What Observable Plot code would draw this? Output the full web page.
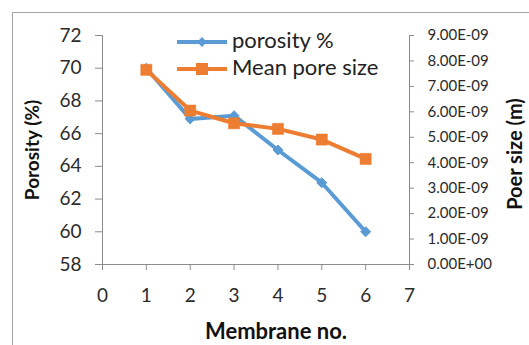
<!DOCTYPE html>
<html>
<head>
<meta charset="utf-8">
<script src="https://cdn.jsdelivr.net/npm/d3@7"></script>
<script src="https://cdn.jsdelivr.net/npm/@observablehq/plot@0.6"></script>
<style>
  html, body { margin: 0; padding: 0; background: #fff; }
  #chart { width: 529px; height: 345px; overflow: hidden; }
</style>
</head>
<body>
<div id="chart"></div>
<script>
// ---- data ----
const membrane = [1, 2, 3, 4, 5, 6];
const porosity = [70, 66.9, 67.1, 65, 63, 60];
const poreSize = [7.65e-9, 6.05e-9, 5.55e-9, 5.33e-9, 4.91e-9, 4.15e-9];
const xTicks = [0, 1, 2, 3, 4, 5, 6, 7];
const leftTicks = [58, 60, 62, 64, 66, 68, 70, 72];
const rightTicks = [0, 1e-9, 2e-9, 3e-9, 4e-9, 5e-9, 6e-9, 7e-9, 8e-9, 9e-9];
const rightTickLabels = ["0.00E+00", "1.00E-09", "2.00E-09", "3.00E-09", "4.00E-09",
  "5.00E-09", "6.00E-09", "7.00E-09", "8.00E-09", "9.00E-09"];
const seriesNames = ["porosity %", "Mean pore size"];
const xTitle = "Membrane no.";
const yLeftTitle = "Porosity (%)";
const yRightTitle = "Poer size (m)";

// ---- dual-axis mapping (right axis -> left scale) ----
const yMin = 58, yMax = 72, rMax = 9e-9;
const toLeft = v => yMin + (v / rMax) * (yMax - yMin);

const porData = membrane.map((m, i) => ({x: m, y: porosity[i]}));
const poreData = membrane.map((m, i) => ({x: m, y: toLeft(poreSize[i])}));
const rightPos = rightTicks.map(toLeft);

const blue = "#5B9BD5", orange = "#ED7D31", axisGray = "#8c8c8c", textCol = "#2b2b2b";

const W = 529, H = 345;
const chart = Plot.plot({
  width: W, height: H,
  marginLeft: 102, marginRight: 120, marginTop: 35, marginBottom: 81,
  style: {fontFamily: "Lato, sans-serif", background: "transparent", color: textCol},
  x: {domain: [0, 7]},
  y: {domain: [yMin, yMax]},
  marks: [
    Plot.ruleY([yMin], {stroke: axisGray, strokeWidth: 1}),
    Plot.ruleX([0], {stroke: axisGray, strokeWidth: 1}),
    Plot.ruleX([7], {stroke: axisGray, strokeWidth: 1}),
    Plot.axisX({ticks: xTicks, tickSize: 6, tickPadding: 18, fontSize: 19, label: null, tickFormat: d => String(d)}),
    Plot.axisY({ticks: leftTicks, anchor: "left", tickSize: 7, tickPadding: 14, fontSize: 19, label: null, tickFormat: d => String(d)}),
    Plot.axisY({ticks: rightPos, anchor: "right", tickSize: 4, tickPadding: 14, fontSize: 15, label: null,
      tickFormat: v => rightTickLabels[Math.round((v - yMin) / (yMax - yMin) * 9)]}),
    Plot.line(porData, {x: "x", y: "y", stroke: blue, strokeWidth: 4, curve: "linear"}),
    Plot.dot(porData, {x: "x", y: "y", symbol: "diamond2", r: 4.5, fill: blue, stroke: blue, strokeWidth: 1}),
    Plot.line(poreData, {x: "x", y: "y", stroke: orange, strokeWidth: 4, curve: "linear"}),
    Plot.dot(poreData, {x: "x", y: "y", symbol: "square", r: 6.3, fill: orange, stroke: orange, strokeWidth: 0.5})
  ]
});

const svg = d3.select(chart);
svg.selectAll('g[aria-label$="tick"] path, g[aria-label$="tick"]').attr("stroke", axisGray);

// chart-area border
svg.insert("rect", ":first-child")
  .attr("x", 12.5).attr("y", 12.5).attr("width", 700).attr("height", 500)
  .attr("fill", "none").attr("stroke", "#a6a6a6").attr("stroke-width", 1);

// axis titles
svg.append("text").text(xTitle)
  .attr("x", 276).attr("y", 333).attr("text-anchor", "middle").attr("dominant-baseline", "middle")
  .attr("font-family", "Lato, sans-serif").attr("font-weight", "bold").attr("font-size", 22).attr("fill", "#111");
svg.append("text").text(yLeftTitle)
  .attr("transform", "translate(34,150) rotate(-90)").attr("text-anchor", "middle").attr("dominant-baseline", "middle")
  .attr("font-family", "Lato, sans-serif").attr("font-weight", "bold").attr("font-size", 19).attr("fill", "#111");
svg.append("text").text(yRightTitle)
  .attr("transform", "translate(517,154) rotate(-90)").attr("text-anchor", "middle").attr("dominant-baseline", "middle")
  .attr("font-family", "Lato, sans-serif").attr("font-weight", "bold").attr("font-size", 20).attr("fill", "#111");

// legend
const legend = svg.append("g");
const legendItems = [
  {name: seriesNames[0], color: blue, sym: "diamond", y: 42},
  {name: seriesNames[1], color: orange, sym: "square", y: 69}
];
legendItems.forEach(it => {
  legend.append("line").attr("x1", 177).attr("x2", 227).attr("y1", it.y).attr("y2", it.y)
    .attr("stroke", it.color).attr("stroke-width", 4);
  if (it.sym === "diamond") {
    legend.append("path").attr("d", d3.symbol(d3.symbolDiamond2, 62)())
      .attr("transform", `translate(202,${it.y})`).attr("fill", it.color);
  } else {
    legend.append("rect").attr("x", 202 - 6).attr("y", it.y - 6).attr("width", 12).attr("height", 12)
      .attr("fill", it.color);
  }
  legend.append("text").text(it.name).attr("x", 232).attr("y", it.y)
    .attr("text-anchor", "start").attr("dominant-baseline", "middle")
    .attr("font-family", "Lato, sans-serif").attr("font-size", 22).attr("fill", "#222");
});

document.getElementById("chart").appendChild(chart);
</script>
</body>
</html>
